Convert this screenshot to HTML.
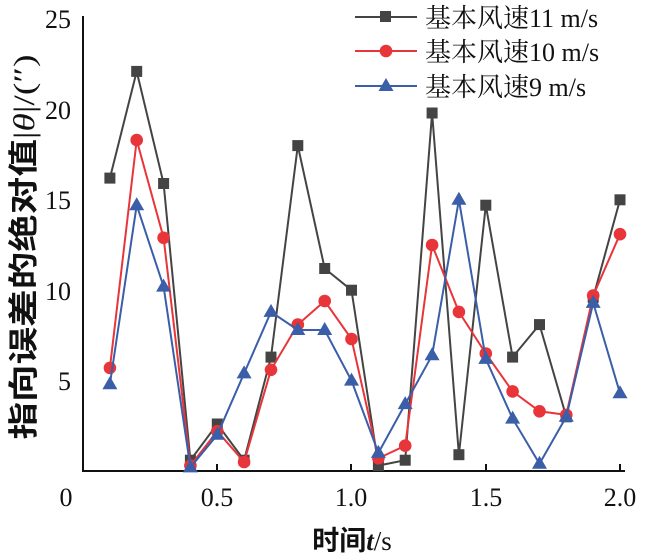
<!DOCTYPE html>
<html><head><meta charset="utf-8"><style>body{margin:0;background:#fff}svg{display:block}</style></head>
<body>
<svg width="645" height="558" viewBox="0 0 645 558" xmlns="http://www.w3.org/2000/svg">
<defs>
<marker id="ms" markerUnits="userSpaceOnUse" markerWidth="12" markerHeight="12" refX="6" refY="6"><rect x="0.5" y="0.5" width="11" height="11" fill="#444"/></marker>
<marker id="mc" markerUnits="userSpaceOnUse" markerWidth="14" markerHeight="14" refX="7" refY="7"><circle cx="7" cy="7" r="6.3" fill="#e8353a"/></marker>
<marker id="mt" markerUnits="userSpaceOnUse" markerWidth="16" markerHeight="16" refX="8" refY="9"><polygon points="8,1 15.5,14 0.5,14" fill="#3a5ea8"/></marker>
</defs>
<g font-family="Liberation Serif, serif" font-size="26" fill="#111">
<text x="71" y="28" text-anchor="end">25</text>
<text x="71" y="119" text-anchor="end">20</text>
<text x="71" y="209" text-anchor="end">15</text>
<text x="71" y="300" text-anchor="end">10</text>
<text x="71" y="390" text-anchor="end">5</text>
<text x="66" y="506" text-anchor="middle">0</text>
<text x="217" y="506" text-anchor="middle">0.5</text>
<text x="351" y="506" text-anchor="middle">1.0</text>
<text x="486" y="506" text-anchor="middle">1.5</text>
<text x="620" y="506" text-anchor="middle">2.0</text>
</g>
<g stroke="#111" stroke-width="2" fill="none">
<polyline points="83,16 83,471 625,471"/>
<line x1="217" y1="471" x2="217" y2="464"/><line x1="351" y1="471" x2="351" y2="464"/>
<line x1="486" y1="471" x2="486" y2="464"/><line x1="620" y1="471" x2="620" y2="464"/>
</g>
<text x="352" y="550" text-anchor="middle" font-family="Liberation Sans, Noto Sans CJK SC, sans-serif" font-size="27" font-weight="bold" fill="#111">时间<tspan font-family="Liberation Serif, serif" font-style="italic">t</tspan><tspan font-family="Liberation Serif, serif" font-weight="normal">/s</tspan></text>
<text transform="translate(34,247) rotate(-90)" text-anchor="middle" textLength="385" lengthAdjust="spacingAndGlyphs" font-family="Liberation Sans, Noto Sans CJK SC, sans-serif" font-size="30" font-weight="bold" fill="#111">指向误差的绝对值<tspan font-family="Liberation Serif, serif" font-weight="normal">|<tspan font-style="italic">θ</tspan>|/(″)</tspan></text>

<polyline fill="none" stroke="#444" stroke-width="2" marker-start="url(#ms)" marker-mid="url(#ms)" marker-end="url(#ms)" points="109.9,178.1 136.7,71.4 163.6,183.5 190.4,460.2 217.3,424.0 244.1,460.2 271.0,357.1 297.8,145.6 324.7,268.5 351.5,290.2 378.4,465.6 405.2,460.2 432.1,113.0 458.9,454.7 485.8,205.2 512.6,357.1 539.5,324.6 566.3,416.8 593.2,297.4 620.0,199.8"/>
<polyline fill="none" stroke="#e8353a" stroke-width="2" marker-start="url(#mc)" marker-mid="url(#mc)" marker-end="url(#mc)" points="109.9,367.9 136.7,140.1 163.6,237.8 190.4,465.6 217.3,431.2 244.1,462.0 271.0,369.8 297.8,324.6 324.7,301.0 351.5,339.0 378.4,458.3 405.2,445.7 432.1,245.0 458.9,311.9 485.8,353.5 512.6,391.4 539.5,411.3 566.3,414.9 593.2,295.6 620.0,234.2"/>
<polyline fill="none" stroke="#3a5ea8" stroke-width="2" marker-start="url(#mt)" marker-mid="url(#mt)" marker-end="url(#mt)" points="109.9,384.2 136.7,205.2 163.6,286.6 190.4,467.4 217.3,434.8 244.1,373.4 271.0,311.9 297.8,330.0 324.7,330.0 351.5,380.6 378.4,452.9 405.2,404.1 432.1,355.3 458.9,199.8 485.8,358.9 512.6,418.6 539.5,463.8 566.3,416.8 593.2,302.9 620.0,393.3"/>

<g font-family="Liberation Serif, Noto Serif CJK SC, serif" font-size="26" fill="#111">
<line x1="355" y1="17" x2="417" y2="17" stroke="#444" stroke-width="2"/><rect x="380" y="11" width="11" height="11" fill="#444"/>
<text x="425" y="27">基本风速11 m/s</text>
<line x1="355" y1="51" x2="417" y2="51" stroke="#e8353a" stroke-width="2"/><circle cx="386" cy="51" r="6.3" fill="#e8353a"/>
<text x="425" y="61">基本风速10 m/s</text>
<line x1="355" y1="86" x2="417" y2="86" stroke="#3a5ea8" stroke-width="2"/><polygon points="386,78 393.5,91 378.5,91" fill="#3a5ea8"/>
<text x="425" y="96">基本风速9 m/s</text>
</g>
</svg>
</body></html>
